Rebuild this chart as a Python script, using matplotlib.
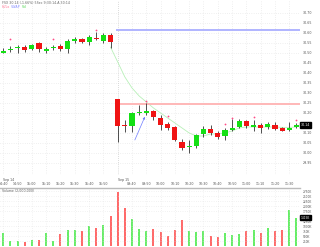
import numpy as np
import matplotlib
matplotlib.use('Agg')
import matplotlib.pyplot as plt

# candle data (5 min bars), two sessions
opens = [30.500, 30.514, 30.524, 30.530, 30.517, 30.547, 30.510, 30.522, 30.534, 30.517,
         30.560, 30.569, 30.555, 30.575, 30.560, 30.590,
         30.267, 30.138, 30.133, 30.197, 30.200, 30.210, 30.172, 30.142, 30.130, 30.055,
         30.031, 30.033, 30.094, 30.119, 30.100, 30.084, 30.114, 30.130, 30.158, 30.130,
         30.139, 30.127, 30.137, 30.122, 30.114, 30.127]
closes = [30.510, 30.520, 30.527, 30.514, 30.539, 30.517, 30.519, 30.530, 30.519, 30.560,
          30.569, 30.555, 30.577, 30.567, 30.589, 30.555,
          30.133, 30.133, 30.197, 30.205, 30.210, 30.177, 30.139, 30.125, 30.064, 30.022,
          30.034, 30.089, 30.119, 30.100, 30.080, 30.114, 30.125, 30.158, 30.133, 30.137,
          30.124, 30.142, 30.120, 30.110, 30.122, 30.140]
highs = [30.524, 30.535, 30.539, 30.539, 30.544, 30.552, 30.530, 30.539, 30.542, 30.567,
         30.577, 30.572, 30.589, 30.602, 30.597, 30.597,
         30.268, 30.164, 30.205, 30.238, 30.249, 30.214, 30.189, 30.154, 30.134, 30.069,
         30.064, 30.094, 30.134, 30.139, 30.109, 30.124, 30.169, 30.169, 30.164, 30.164,
         30.149, 30.154, 30.154, 30.129, 30.154, 30.149]
lows = [30.497, 30.505, 30.500, 30.505, 30.514, 30.505, 30.500, 30.514, 30.510, 30.500,
        30.547, 30.550, 30.539, 30.565, 30.550, 30.525,
        30.053, 30.105, 30.105, 30.189, 30.189, 30.164, 30.114, 30.114, 30.059, 30.014,
        29.999, 30.024, 30.079, 30.089, 30.069, 30.064, 30.109, 30.124, 30.124, 30.109,
        30.099, 30.119, 30.114, 30.109, 30.109, 30.124]
volumes = [650, 250, 250, 215, 300, 300, 650, 265, 600, 800, 800, 750, 1015, 915, 1050, 1500,
           2700, 1915, 1335, 835, 765, 835, 715, 500, 800, 1300, 750, 715, 750, 515, 435, 635,
           550, 600, 750, 800, 635, 885, 750, 800, 1800, 1415]  # thousands

# green trailing average line (from last bar of day 1)
avg_idx = list(range(15, 42))
avg_vals = [30.528, 30.454, 30.379, 30.324, 30.284, 30.254, 30.224, 30.199, 30.174, 30.149,
            30.124, 30.099, 30.084, 30.084, 30.094, 30.094, 30.099, 30.109, 30.124, 30.129,
            30.129, 30.129, 30.129, 30.129, 30.127, 30.127, 30.129]

# pink high markers
mark_idx = [1, 7, 13, 20, 23, 31, 32, 35, 41]
mark_vals = [30.568, 30.570, 30.613, 30.260, 30.183, 30.142, 30.172, 30.178, 30.164]

vwap_level = 30.6135
hilo_level = 30.246
day2_start = 16
arrow_from = (18.4, 30.064)
arrow_to = (19.8, 30.180)

time_ticks = [0, 2, 4, 6, 8, 10, 12, 14, 18, 20, 22, 24, 26, 28, 30, 32, 34, 36, 38, 40]
time_labels = ['14:40', '14:50', '15:00', '15:10', '15:20', '15:30', '15:40', '15:50',
               '09:40', '09:50', '10:00', '10:10', '10:20', '10:30', '10:40', '10:50',
               '11:00', '11:10', '11:20', '11:30']
date_ticks = [0, 16]
date_labels = ['Sep 14', 'Sep 15']
# 30.15 and 1500K sit under the last-value boxes
price_ticks = [29.95, 30.00, 30.05, 30.10, 30.20, 30.25, 30.30, 30.35, 30.40,
               30.45, 30.50, 30.55, 30.60, 30.65, 30.70]
vol_ticks = [250, 500, 750, 1000, 1250, 1750, 2000, 2250, 2500, 2750]

GREEN = '#14e014'
RED = '#f01414'
FS = 2.3

fig = plt.figure(figsize=(3.2, 2.47), dpi=100)
ax = fig.add_axes([0, 1 - 175 / 247, 0.9375, 175 / 247])
axv = fig.add_axes([0, 1 / 247, 0.9375, 58 / 247], sharex=ax)

x = np.arange(len(opens))
up = np.array(closes) >= np.array(opens)
colors = [GREEN if u else RED for u in up]

ax.vlines(x, lows, highs, color='#333333', lw=0.6, zorder=3)
bottoms = np.minimum(opens, closes)
heights = np.maximum(np.abs(np.array(closes) - np.array(opens)), 0.0015)
ax.bar(x, heights, bottom=bottoms, width=0.72, color=colors, edgecolor='none', zorder=4)

ax.plot(avg_idx, avg_vals, color='#b8f0b8', lw=0.6, zorder=2)
ax.plot(mark_idx, mark_vals, ls='none', marker='o', ms=1.3, color='#ff4d88',
        markeredgewidth=0, zorder=5)
ax.hlines(vwap_level, day2_start - 0.2, 41.6, color='#b0b4ff', lw=1.4, zorder=2)
ax.hlines(hilo_level, day2_start + 0.2, 41.6, color='#ffb8b8', lw=1.4, zorder=2)
ax.axvline(day2_start, color='#bbbbbb', lw=0.5, ls=(0, (1, 2)), zorder=1)
ax.annotate('', xy=arrow_to, xytext=arrow_from,
            arrowprops=dict(arrowstyle='-|>', color='#6f7cff', lw=0.5,
                            mutation_scale=3, shrinkA=0, shrinkB=0))

ax.set_xlim(-0.46, 41.5)
ax.set_ylim(29.889, 30.7635)
ax.set_yticks(price_ticks)
ax.set_yticklabels(['%.2f' % p for p in price_ticks])
ax.yaxis.tick_right()
ax.tick_params(axis='y', length=0, labelsize=FS, labelcolor='#555555', pad=2)
ax.set_xticks(time_ticks)
ax.set_xticklabels(time_labels)
ax.tick_params(axis='x', length=0, labelsize=FS, labelcolor='#555555', pad=5)
ax.grid(True, color='#cfcfcf', lw=0.4, ls=(0, (1, 3)))
for s in ax.spines.values():
    s.set_visible(False)

for dt, dl in zip(date_ticks, date_labels):
    ax.annotate(dl, xy=(dt, 0), xycoords=('data', 'axes fraction'), xytext=(0, -2),
                textcoords='offset points', fontsize=FS, color='#555555',
                ha='left', va='top')

ax.text(0.005, 0.997, 'FSX 30.14 (-1.66%) 5Sec 9:30:14-A 30:14', transform=ax.transAxes,
        fontsize=FS, color='#666666', ha='left', va='top')
trans = ax.transAxes
ax.text(0.005, 0.974, 'Hi/Lo', transform=trans, fontsize=FS, color='#ff7090', va='top')
ax.text(0.038, 0.974, 'VWAP', transform=trans, fontsize=FS, color='#8890ff', va='top')
ax.text(0.072, 0.974, 'Vol', transform=trans, fontsize=FS, color='#40d040', va='top')

last = closes[-1]
ax.annotate('%.2f' % last, xy=(1.003, last), xycoords=('axes fraction', 'data'),
            fontsize=FS, color='white', ha='left', va='center',
            bbox=dict(boxstyle='square,pad=0.25', fc='black', ec='black'))

# volume panel
vcolors = ['#66ee66' if u else '#ff6a6a' for u in up]
axv.bar(x, volumes, width=0.28, color=vcolors, edgecolor='none')
axv.set_ylim(0, 2900)
axv.set_yticks(vol_ticks)
axv.set_yticklabels(['%dK' % v for v in vol_ticks])
axv.yaxis.tick_right()
axv.tick_params(axis='y', length=0, labelsize=FS - 0.2, labelcolor='#555555', pad=2)
axv.tick_params(axis='x', bottom=False, labelbottom=False)
axv.grid(True, color='#d8d8d8', lw=0.4, ls=(0, (1, 3)))
for k, s in axv.spines.items():
    s.set_visible(k == 'top')
axv.spines['top'].set_color('#bbbbbb')
axv.spines['top'].set_linewidth(1.0)
axv.text(0.005, 0.985, 'Volume (2,000,000)', transform=axv.transAxes, fontsize=FS,
         color='#666666', ha='left', va='top')
axv.annotate('%dK' % volumes[-1], xy=(1.003, volumes[-1]), xycoords=('axes fraction', 'data'),
             fontsize=FS - 0.2, color='white', ha='left', va='center',
             bbox=dict(boxstyle='square,pad=0.2', fc='black', ec='black'))

fig.savefig('out.png', dpi=100, facecolor='white')
